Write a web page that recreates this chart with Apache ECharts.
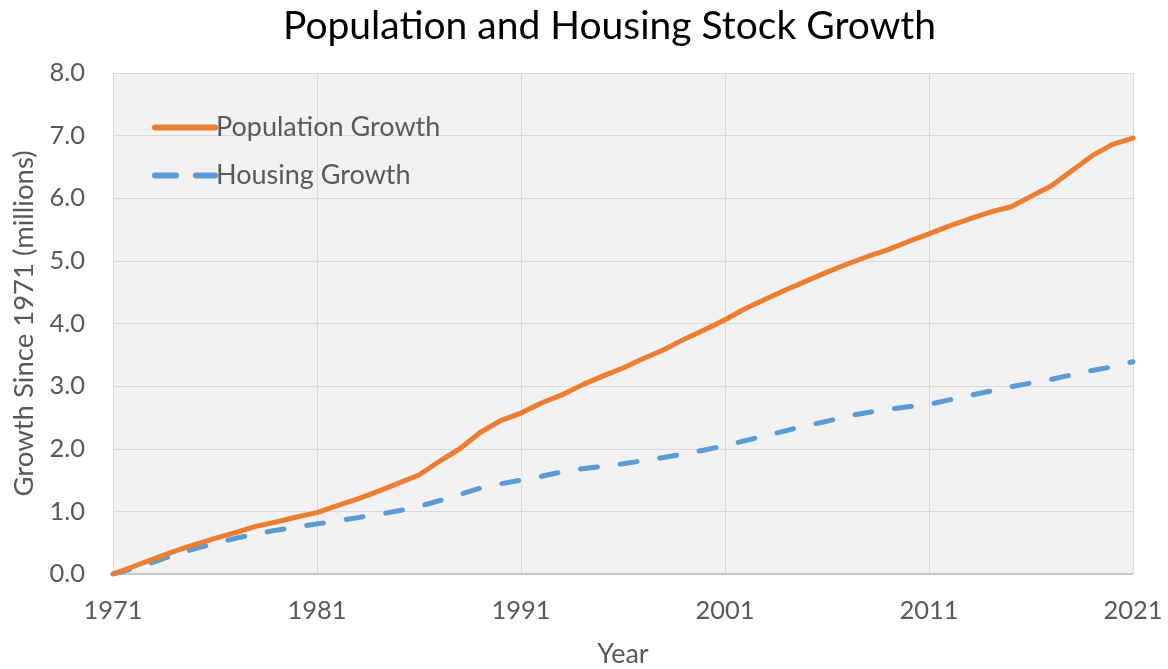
<!DOCTYPE html>
<html>
<head>
<meta charset="utf-8">
<script src="https://cdn.jsdelivr.net/npm/echarts@6/dist/echarts.min.js"></script>
<style>
  html, body { margin: 0; padding: 0; background: #fff; }
  #chart { width: 1168px; height: 669px; }
</style>
</head>
<body>
<div id="chart"></div>
<script>
const years = []
for (let y = 1971; y <= 2021; y++) years.push(String(y))

// growth since 1971, millions
const populationGrowth = [
  0.00, 0.12, 0.24, 0.36, 0.47, 0.57, 0.66, 0.76, 0.83, 0.91,
  0.98, 1.09, 1.20, 1.32, 1.45, 1.58, 1.80, 2.00, 2.26, 2.45,
  2.57, 2.73, 2.86, 3.02, 3.16, 3.29, 3.44, 3.58, 3.75, 3.90,
  4.06, 4.24, 4.39, 4.54, 4.68, 4.82, 4.95, 5.07, 5.18, 5.31,
  5.43, 5.56, 5.67, 5.78, 5.86, 6.03, 6.20, 6.44, 6.68, 6.86,
  6.96
]
const housingGrowth = [
  0.00, 0.09, 0.19, 0.31, 0.40, 0.49, 0.57, 0.64, 0.70, 0.75,
  0.80, 0.85, 0.90, 0.95, 1.01, 1.08, 1.17, 1.27, 1.37, 1.44,
  1.50, 1.56, 1.63, 1.68, 1.72, 1.76, 1.81, 1.86, 1.92, 1.98,
  2.05, 2.13, 2.21, 2.29, 2.37, 2.44, 2.52, 2.58, 2.63, 2.67,
  2.71, 2.78, 2.85, 2.92, 2.99, 3.05, 3.11, 3.18, 3.25, 3.31,
  3.39
]

const font = 'Lato, "Open Sans", sans-serif'
const textColor = '#595959'
const orange = '#ed7d31'
const blue = '#5b9bd5'

const chart = echarts.init(document.getElementById('chart'))
chart.setOption({
  animation: false,
  title: {
    text: 'Population and Housing Stock Growth',
    left: 278,
    top: 2,
    textStyle: { fontFamily: font, fontSize: 39, fontWeight: 'normal', color: '#000' }
  },
  legend: {
    orient: 'vertical',
    left: 147,
    top: 109,
    itemWidth: 60,
    itemHeight: 14,
    itemGap: 21,
    textStyle: { fontFamily: font, fontSize: 27, color: textColor, padding: [0, 0, 0, -4] },
    data: [
      {
        name: 'Population Growth',
        itemStyle: { opacity: 0 },
        lineStyle: { color: orange, width: 6, cap: 'round' }
      },
      {
        name: 'Housing Growth',
        itemStyle: { opacity: 0 },
        lineStyle: { color: blue, width: 6, type: [21, 20], cap: 'round' }
      }
    ]
  },
  grid: {
    left: 113, right: 35, top: 73, bottom: 95,
    outerBoundsMode: 'none', containLabel: false,
    backgroundColor: '#f2f2f2', show: true, borderWidth: 0
  },
  xAxis: {
    type: 'category',
    data: years,
    boundaryGap: false,
    name: 'Year',
    nameLocation: 'middle',
    nameGap: 67,
    nameTextStyle: { fontFamily: font, fontSize: 27, color: textColor },
    axisLine: { lineStyle: { color: '#bfbfbf', width: 1.5 } },
    axisTick: { show: false },
    axisLabel: { interval: 9, margin: 24, fontFamily: font, fontSize: 25.5, color: textColor },
    splitLine: { show: true, interval: 9, lineStyle: { color: '#d9d9d9' } }
  },
  yAxis: {
    type: 'value',
    min: 0,
    max: 8,
    interval: 1,
    name: 'Growth Since 1971 (millions)',
    nameLocation: 'middle',
    nameGap: 74,
    nameTextStyle: { fontFamily: font, fontSize: 27.5, color: textColor },
    axisLine: { show: false },
    axisTick: { show: false },
    axisLabel: { margin: 28, fontFamily: font, fontSize: 25.5, color: textColor, formatter: v => v.toFixed(1) },
    splitLine: { lineStyle: { color: '#d9d9d9' } }
  },
  series: [
    {
      name: 'Population Growth',
      type: 'line',
      data: populationGrowth,
      symbol: 'none',
      z: 3,
      itemStyle: { color: orange },
      lineStyle: { color: orange, width: 5, cap: 'round', join: 'round' }
    },
    {
      name: 'Housing Growth',
      type: 'line',
      data: housingGrowth,
      symbol: 'none',
      z: 2,
      itemStyle: { color: blue },
      lineStyle: { color: blue, width: 5, type: [17, 23], cap: 'round', join: 'round' }
    }
  ]
})
</script>
</body>
</html>
